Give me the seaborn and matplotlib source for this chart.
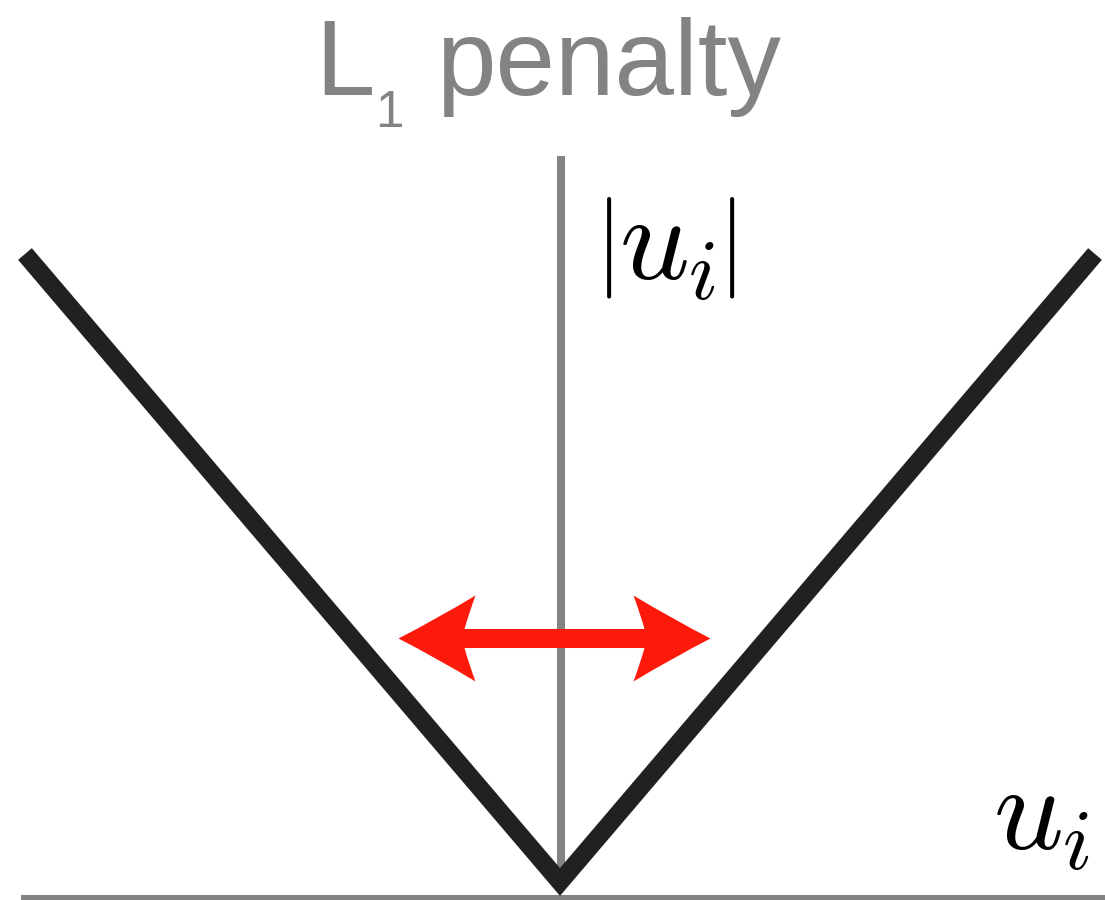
import numpy as np
import matplotlib
matplotlib.use("Agg")
import matplotlib.pyplot as plt
from matplotlib.path import Path
from matplotlib.markers import MarkerStyle
import seaborn as sns

# Data: the L1 penalty |u_i| sampled at its kink and ends
u_vals = [-1.0, 0.0, 1.0]
penalty_vals = [1.0, 0.0, 1.0]

# Red double arrow (shrinkage direction), in data units
arrow_y = 0.3885
arrow_tips = [-0.303, 0.280]

GRAY = "#838383"
BLACK = "#22211f"
RED = "#fe1a0a"

W, H = 1105, 900


def px(x, y):
    return x / W, 1 - y / H


def head_marker(direction):
    # swept arrow head, tip at the origin, pointing right (units: pixels)
    verts = [(0, 0), (-39, 20), (-77, 43), (-70, 24), (-66, 9.5),
             (-66, -9.5), (-70, -24), (-77, -43), (-39, -20), (0, 0), (0, 0)]
    codes = [Path.MOVETO, Path.CURVE3, Path.CURVE3, Path.CURVE3, Path.CURVE3,
             Path.LINETO, Path.CURVE3, Path.CURVE3, Path.CURVE3, Path.CURVE3,
             Path.CLOSEPOLY]
    verts = np.array(verts, dtype=float)
    verts[:, 0] *= direction
    return MarkerStyle(Path(verts, codes))


def l1_plot():
    sns.set_style("white")
    plt.rcParams["mathtext.fontset"] = "cm"

    fig = plt.figure(figsize=(W / 100, H / 100), dpi=100)
    ax = fig.add_axes([0, 0, 1, 1])

    sns.lineplot(x=u_vals, y=penalty_vals, ax=ax, color=BLACK, lw=13,
                 sort=False, estimator=None)
    ax.lines[0].set_solid_joinstyle("miter")
    ax.lines[0].set_solid_capstyle("butt")
    ax.lines[0].set_zorder(3)

    # Axes drawn as gray spines through the origin
    ax.set_xlim(-1.0467, 1.0187)
    ax.set_ylim(-0.0287, 1.4045)
    for side in ["top", "right"]:
        ax.spines[side].set_visible(False)
    ax.spines["left"].set_position(("data", 0.002))
    ax.spines["left"].set_bounds(0.0, 1.15)
    ax.spines["bottom"].set_position(("data", -0.027))
    ax.spines["bottom"].set_bounds(-1.0, 1.05)
    for side in ["left", "bottom"]:
        ax.spines[side].set_color(GRAY)
        ax.spines[side].set_linewidth(5.8)
        ax.spines[side].set_zorder(1)
    ax.set_xticks([])
    ax.set_yticks([])

    # Double-headed arrow: shaft plus two swept heads
    x0 = ax.transData.transform((0, 0))[0]
    unit_px = ax.transData.transform((1, 0))[0] - x0
    inset = 55 / unit_px
    ax.plot([arrow_tips[0] + inset, arrow_tips[1] - inset], [arrow_y, arrow_y],
            color=RED, lw=13.7, solid_capstyle="butt", zorder=4)
    head_size = 2 * 77 * 72 / 100
    ax.plot(arrow_tips[0], arrow_y, marker=head_marker(-1), ms=head_size,
            mfc=RED, mew=0, ls="none", zorder=4)
    ax.plot(arrow_tips[1], arrow_y, marker=head_marker(1), ms=head_size,
            mfc=RED, mew=0, ls="none", zorder=4)

    # Title "L1 penalty"
    title_kw = dict(color=GRAY, family="Liberation Sans", transform=fig.transFigure,
                    ha="left", va="baseline")
    fig.text(*px(315, 95), "L", fontsize=77, **title_kw)
    fig.text(*px(375, 127), "1", fontsize=37, **title_kw)
    fig.text(*px(436, 95), "penalty", fontsize=77, **title_kw)

    # Math labels
    math_kw = dict(color="black", transform=fig.transFigure, ha="left", va="baseline")
    fig.text(*px(594, 272), r"$|$", fontsize=73, **math_kw)
    fig.text(*px(619, 280), r"$u_i$", fontsize=88, **math_kw)
    fig.text(*px(717, 272), r"$|$", fontsize=73, **math_kw)
    fig.text(*px(993, 850), r"$u_i$", fontsize=88, **math_kw)

    fig.savefig("out.png", dpi=100, facecolor="white")


if __name__ == "__main__":
    l1_plot()
